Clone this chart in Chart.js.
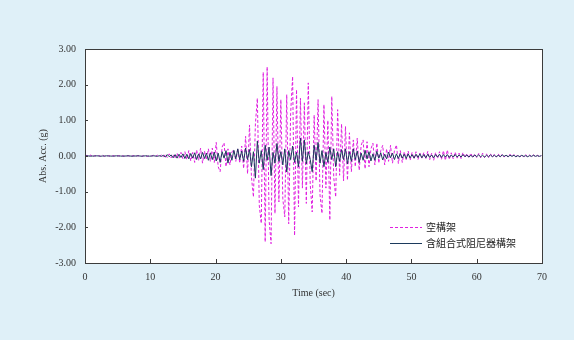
<!DOCTYPE html>
<html>
<head>
<meta charset="utf-8">
<script src="https://cdn.jsdelivr.net/npm/chart.js@4/dist/chart.umd.min.js"></script>
<style>
  html, body { margin: 0; padding: 0; background: #dff0f8; }
  #wrap { width: 574px; height: 340px; position: relative; }
</style>
</head>
<body>
<div id="wrap"><canvas id="accChart"></canvas></div>
<script>
// samples every 0.3 s, starting at t = 0
const sampleStep = 0.3;

const seriesNames = ['空構架', '含組合式阻尼器構架'];

// absolute acceleration (g), bare frame
const bareFrame = [
  0, 0.02, -0.01, 0.03, -0.02, 0.01, 0, 0.01, -0.01, 0.02,
  -0.01, 0, 0.01, -0.01, 0.01, 0, -0.01, 0.01, 0, 0.01,
  -0.01, 0, 0.01, -0.01, 0, 0.01, -0.01, 0.01, 0, -0.01,
  0.01, 0, -0.01, 0.01, 0, 0.02, -0.01, 0.02, -0.02, 0.03,
  -0.03, 0.05, -0.04, 0.06, -0.05, 0.04, -0.07, 0.08, -0.06, 0.1,
  -0.08, 0.12, -0.1, 0.15, -0.14, 0.1, -0.18, 0.17, -0.12, 0.22,
  -0.2, 0.14, -0.11, 0.2, -0.15, 0.22, -0.18,
  0.38, -0.3, -0.44, 0.25, 0.37, -0.3, 0.2, -0.25, 0.12, 0.17, -0.15, 0.22, -0.2, 0.28,
  -0.35, 0.55, -0.5, 0.87, -0.6, -1.15, 0.9, 1.62, -1.4, -1.89,
  2.35, -2.41, 2.5, -1.8, -2.46, 2.19, -1.61, 1.95, -1.29, 1.58,
  -1.2, -1.71, 1.72, -1.9, 1.2, 2.23, -2.23, 1.86, -1.43, 1.62,
  -0.9, 1.49, -1.33, 2.05, -0.8, -1.57, 1.15, -0.7, 1.58, -1.1,
  -1.61, 1.44, -0.9, 1.0, -1.8, 1.67, -0.6, -1.15, 1.3, -0.54,
  0.9, -0.7,
  0.83, -0.68, 0.65, -0.44, 0.45, -0.3, 0.5, -0.4, 0.3, 0.45,
  -0.36, 0.4, -0.3, 0.2, 0.36, -0.25, 0.36, -0.2, 0.15, 0.3,
  -0.25, 0.2, -0.15, 0.3, -0.2, 0.15, 0.31, -0.21,
  0.15, -0.18, 0.12, -0.1, 0.14, -0.12, 0.1, -0.08, 0.12, -0.1,
  0.08, -0.06, 0.1, -0.08, 0.13, -0.1, 0.08, -0.12, 0.1, -0.07,
  0.12, -0.1, 0.15, -0.12, 0.17, -0.1, 0.09, -0.08, 0.11, -0.06,
  0.08, -0.07, 0.1, -0.05, 0.07, -0.06, 0.08, -0.05, 0.06, -0.04,
  0.07, -0.05, 0.08, -0.04, 0.06, -0.05, 0.07, -0.04, 0.05, -0.03,
  0.06, -0.04, 0.05, -0.03, 0.04, -0.03, 0.05, -0.02, 0.04, -0.03,
  0.04, -0.02, 0.03, -0.03, 0.04, -0.02, 0.03, -0.02, 0.03, -0.02,
  0.02, -0.02, 0.01
];

// absolute acceleration (g), frame with combined dampers
const damperFrame = [
  0, 0.005, 0, -0.005, 0, 0, 0.005, 0, -0.005, 0,
  0, 0.005, 0, 0, -0.005, 0, 0.005, 0, 0, -0.005,
  0, 0, 0.005, 0, -0.005, 0, 0, 0.005, 0, -0.005,
  0, 0.005, 0, -0.005, 0, 0.005, 0, -0.01, 0.01, -0.01,
  0.02, -0.03, 0.04, -0.02, 0.03, -0.05, 0.04, -0.06, 0.05, -0.04,
  0.06, -0.07, 0.05, -0.08, 0.07, -0.06, 0.09, -0.1, 0.06, -0.08,
  0.1, -0.07, 0.08, -0.12, 0.09, -0.1, 0.11,
  -0.14, 0.08, -0.18, 0.12, -0.06, 0.15, -0.2, 0.1, -0.12, 0.16, -0.08, 0.2, -0.1, 0.14,
  -0.15, 0.22, -0.1, 0.18, -0.3, 0.12, -0.62, 0.42, -0.2, 0.15,
  -0.38, 0.3, -0.12, 0.25, -0.55, 0.1, -0.2, 0.35, -0.15, 0.12,
  -0.25, 0.2, -0.45, 0.15, -0.1, 0.28, -0.18, 0.1, -0.3, 0.5,
  -0.15, 0.45, -0.22, 0.12, -0.1, -0.44, 0.3, -0.12, 0.38, -0.2,
  0.15, -0.3, 0.1, -0.18, 0.25, -0.1, 0.2, -0.3, 0.12, -0.15,
  0.18, -0.1,
  0.2, -0.22, 0.12, -0.15, 0.2, -0.1, 0.14, -0.18, 0.08, -0.12,
  0.16, -0.08, 0.12, -0.14, 0.06, -0.12, 0.13, -0.06, 0.09, -0.11,
  0.05, -0.08, 0.11, -0.05, 0.08, -0.1, 0.06, -0.07,
  0.07, -0.06, 0.05, -0.07, 0.06, -0.05, 0.04, -0.06, 0.05, -0.04,
  0.06, -0.05, 0.04, -0.05, 0.05, -0.04, 0.03, -0.05, 0.04, -0.03,
  0.05, -0.04, 0.04, -0.03, 0.04, -0.04, 0.03, -0.03, 0.04, -0.03,
  0.03, -0.03, 0.04, -0.02, 0.03, -0.03, 0.02, -0.03, 0.03, -0.02,
  0.03, -0.02, 0.02, -0.03, 0.02, -0.02, 0.03, -0.02, 0.02, -0.02,
  0.02, -0.02, 0.03, -0.01, 0.02, -0.02, 0.02, -0.01, 0.02, -0.02,
  0.01, -0.02, 0.02, -0.01, 0.01, -0.02, 0.01, -0.01, 0.02, -0.01,
  0.01, -0.01, 0.01
];

const xTicks = [0, 10, 20, 30, 40, 50, 60, 70];
const yTicks = [-3, -2, -1, 0, 1, 2, 3];

function toPoints(values) {
  return values.map((v, i) => ({ x: +(i * sampleStep).toFixed(1), y: v }));
}

const tickFont = { family: '"Liberation Serif", "Times New Roman", serif', size: 10 };
const titleFont = { family: '"Liberation Serif", "Times New Roman", serif', size: 10 };

// white plot area + frame + inward tick marks + legend box
const framePlugin = {
  id: 'framePlugin',
  beforeDraw(chart) {
    const { ctx, chartArea: a } = chart;
    ctx.save();
    ctx.fillStyle = '#ffffff';
    ctx.fillRect(a.left, a.top, a.right - a.left, a.bottom - a.top);
    ctx.restore();
  },
  afterDraw(chart) {
    const { ctx, chartArea: a, scales } = chart;
    ctx.save();
    ctx.strokeStyle = '#3c3c3c';
    ctx.lineWidth = 1;
    ctx.strokeRect(Math.round(a.left) + 0.5, Math.round(a.top) + 0.5,
      Math.round(a.right - a.left), Math.round(a.bottom - a.top));
    ctx.beginPath();
    xTicks.forEach(t => {
      const px = Math.round(scales.x.getPixelForValue(t)) + 0.5;
      ctx.moveTo(px, a.bottom);
      ctx.lineTo(px, a.bottom - 4);
    });
    yTicks.forEach(t => {
      const py = Math.round(scales.y.getPixelForValue(t)) + 0.5;
      ctx.moveTo(a.left, py);
      ctx.lineTo(a.left + 3, py);
    });
    ctx.stroke();

    // legend, lower right inside the plot
    const lx = 390, ly = [227, 243];
    const styles = [
      { color: '#e020e0', dash: [3, 2] },
      { color: '#1c3a5c', dash: [] }
    ];
    ctx.font = '10px "Noto Sans CJK TC"';
    ctx.textBaseline = 'middle';
    seriesNames.forEach((name, i) => {
      ctx.beginPath();
      ctx.setLineDash(styles[i].dash);
      ctx.strokeStyle = styles[i].color;
      ctx.moveTo(lx, ly[i] + 0.5);
      ctx.lineTo(lx + 32, ly[i] + 0.5);
      ctx.stroke();
      ctx.setLineDash([]);
      ctx.fillStyle = '#222222';
      ctx.fillText(name, lx + 36, ly[i]);
    });
    ctx.restore();
  }
};

new Chart(document.getElementById('accChart'), {
  type: 'line',
  data: {
    datasets: [
      {
        label: seriesNames[0],
        data: toPoints(bareFrame),
        borderColor: '#e020e0',
        borderWidth: 1,
        borderDash: [3, 2],
        pointRadius: 0,
        tension: 0,
        order: 1
      },
      {
        label: seriesNames[1],
        data: toPoints(damperFrame),
        borderColor: '#1c3a5c',
        borderWidth: 1,
        pointRadius: 0,
        tension: 0,
        order: 0
      }
    ]
  },
  options: {
    responsive: true,
    maintainAspectRatio: false,
    animation: false,
    layout: { padding: { left: 37, top: 49, right: 32, bottom: 41 } },
    plugins: { legend: { display: false }, tooltip: { enabled: false } },
    scales: {
      x: {
        type: 'linear',
        min: 0,
        max: 70,
        afterFit(scale) { scale.height = 36; },
        afterBuildTicks(scale) { scale.ticks = xTicks.map(v => ({ value: v })); },
        grid: { display: false, drawTicks: false },
        border: { display: false },
        ticks: { font: tickFont, color: '#333333', padding: 8, maxRotation: 0 },
        title: { display: true, text: 'Time (sec)', font: titleFont, color: '#333333', padding: 0 }
      },
      y: {
        min: -3,
        max: 3,
        afterFit(scale) { scale.width = 48; },
        afterBuildTicks(scale) { scale.ticks = yTicks.map(v => ({ value: v })); },
        grid: { display: false, drawTicks: false },
        border: { display: false },
        ticks: { font: tickFont, color: '#333333', padding: 9, callback: v => v.toFixed(2) },
        title: { display: true, text: 'Abs. Acc. (g)', font: titleFont, color: '#333333', padding: 0 }
      }
    }
  },
  plugins: [framePlugin]
});
</script>
</body>
</html>
